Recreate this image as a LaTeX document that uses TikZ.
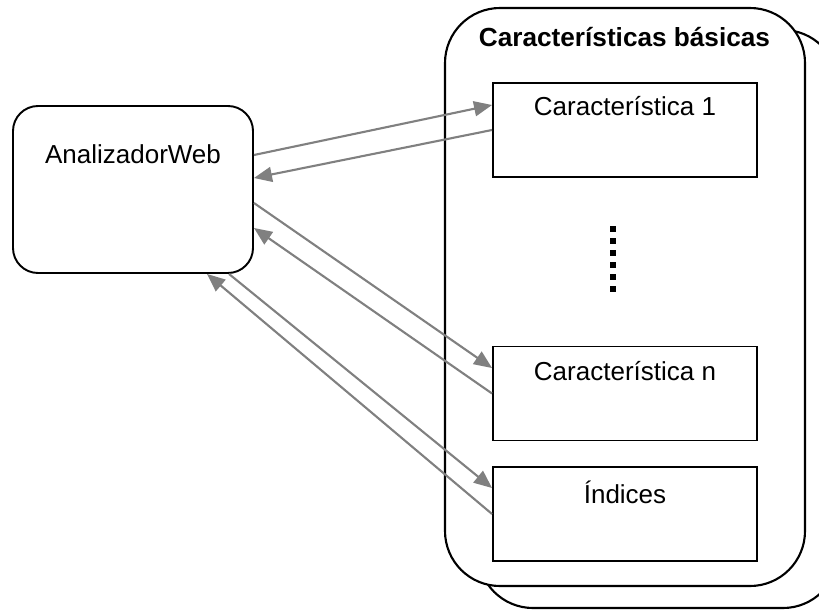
\documentclass[tikz,border=0pt]{standalone}
\usepackage{fontspec}
\setmainfont{Liberation Sans}
\usetikzlibrary{arrows.meta}
\definecolor{flecha}{RGB}{128,128,128}
\begin{document}
\begin{tikzpicture}[
	caja/.style = {draw, line width=1.1pt, minimum width=5.28cm, minimum height=1.88cm, inner sep=0pt},
	web/.style = {draw, line width=1.1pt, rounded corners=0.5cm, minimum width=4.8cm, minimum height=3.34cm, inner sep=0pt},
	envio/.style = {draw=flecha, line width=1.2pt, -{Triangle[length=0.36cm,width=0.3cm]}},
	texto/.style = {font=\fontsize{14.8}{17}\selectfont}
	]
			\useasboundingbox (0,0) rectangle (16.38,12.2);
			
			%Contenedor (dos capas)
			\draw[line width=1.2pt, rounded corners=1.1cm, fill=white] (9.56,0.04) rectangle (16.76,11.6);
			\draw[line width=1.2pt, rounded corners=1.1cm, fill=white] (8.9,0.48) rectangle (16.1,12.04);
			\node[texto, font=\fontsize{14.9}{17}\selectfont\bfseries] (titulo) at (12.49,11.46) {Características básicas};
			
			%AnalizadorWeb
			\node[web] (web) at (2.66,8.41) {};
			\node[texto] (webtxt) at ([yshift=-0.98cm]web.north) {AnalizadorWeb};
			
			%Caracteristicas
			\def\x{12.5}
			\node[caja] (car1) at (\x,9.6) {};
			\node[texto] (car1txt) at ([yshift=-0.48cm]car1.north) {Característica 1};
			
			\node[caja] (carn) at (\x,4.33) {};
			\node[texto] (carntxt) at ([yshift=-0.52cm]carn.north) {Característica n};
			
			\node[caja] (idx) at (\x,1.92) {};
			\node[texto] (idxtxt) at ([yshift=-0.52cm]idx.north) {Índices};
			
			%Puntos
			\draw[line width=0.12cm, dash pattern=on 0.12cm off 0.12cm] (12.26,7.68) -- (12.26,6.36);
			
			%Flechas
			\draw[envio] ([yshift=0.69cm]web.east) -- ([yshift=0.5cm]car1.west);
			\draw[envio] (car1.west) -- ([yshift=0.23cm]web.east);
			\draw[envio] ([yshift=-0.27cm]web.east) -- ([yshift=0.51cm]carn.west);
			\draw[envio] (carn.west) -- ([yshift=-0.77cm]web.east);
			\draw[envio] ([xshift=1.92cm]web.south) -- ([yshift=0.52cm]idx.west);
			\draw[envio] (idx.west) -- ([xshift=1.48cm]web.south);
		\end{tikzpicture}
\end{document}
